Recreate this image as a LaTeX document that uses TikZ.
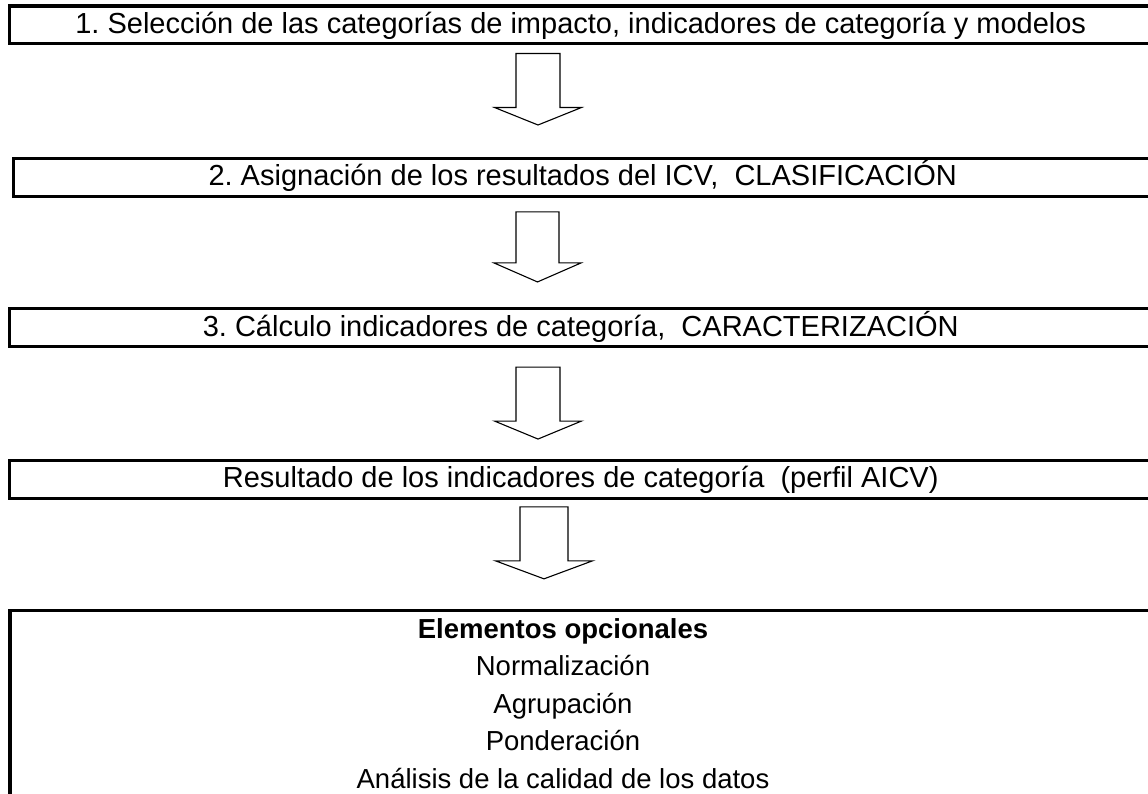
\documentclass[tikz,border=0pt]{standalone}
\usepackage{fontspec}
\setmainfont{Liberation Sans}
\usetikzlibrary{calc}

\begin{document}
\frenchspacing
\begin{tikzpicture}[x=1pt, y=-1pt,
    every node/.style={align=center, inner sep=0pt, outer sep=0pt},
    stagebox/.style={draw, line width=3.3pt, minimum width=1142.5pt, minimum height=37.7pt,
      font=\fontsize{29}{34}\selectfont, text height=23.2pt, text depth=6.1pt},
    hollowarrow/.style={draw, line width=1.1pt, line join=miter}]
  \useasboundingbox (0,0) rectangle (1148,794);
  \clip (0,0) rectangle (1148,794);

  % stages of the assessment
  \node[stagebox] (s1) at (580.75,24.85)
    {1. Selección de las categorías de impacto, indicadores de categoría y modelos};
  \node[stagebox, minimum width=1138.5pt] (s2) at (582.75,177.4)
    {2. Asignación de los resultados del ICV,\ \ CLASIFICACIÓN};
  \node[stagebox] (s3) at (580.75,327.5)
    {3. Cálculo indicadores de categoría,\ \ CARACTERIZACIÓN};
  \node[stagebox] (s4) at (580.75,479.3)
    {Resultado de los indicadores de categoría\ \ (perfil AICV)};
  \node[stagebox, anchor=north west, minimum height=220pt] (s5) at (10,610.7) {};
  \node[font=\fontsize{27.5}{37.5}\selectfont, anchor=north] (s5txt) at (563,618.3)
    {\textbf{Elementos opcionales}\\Normalización\\Agrupación\\Ponderación\\Análisis de la calidad de los datos};

  % hollow block arrows between the stages
  \foreach \src/\dx/\dy/\sl/\hl/\sw/\hw in {s1/-42.75/9.8/54/17.5/22/43.5,
      s2/-45.25/15.7/51/19/21.5/43.5, s3/-42.75/20.7/54/18/22/43.5,
      s4/-36.75/8.7/54/18/24/48.5}
    \draw[hollowarrow] ($(\src.south)+(\dx-\sw,\dy)$) -- ++(0,\sl) -- ++(\sw-\hw,0)
      -- ++(\hw,\hl) -- ++(\hw,-\hl) -- ++(\sw-\hw,0) -- ++(0,-\sl) -- cycle;
\end{tikzpicture}
\end{document}
